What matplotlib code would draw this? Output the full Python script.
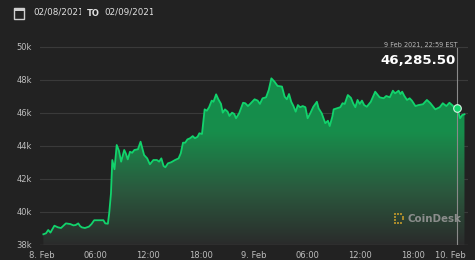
import numpy as np
import matplotlib
matplotlib.use("Agg")
import matplotlib.pyplot as plt
from matplotlib.colors import LinearSegmentedColormap
from matplotlib.patches import Rectangle
from matplotlib.transforms import Bbox

# hours since 8 Feb 2021 00:00 EST, price in thousands USD
hours = [0.15, 0.45, 0.7, 0.95, 1.4, 1.8, 2.15, 2.7, 3.2, 3.55, 3.8, 4.1, 4.3, 4.5, 4.85,
         5.3, 5.6, 5.9, 6.55, 6.95, 7.15, 7.45, 7.6, 7.8, 7.95, 8.2, 8.45, 8.7, 8.95, 9.3,
         9.5, 9.7, 9.95, 10.2, 10.45, 10.85, 11.15, 11.55, 11.9, 12.2, 12.6, 13.0, 13.25,
         13.5, 13.75, 13.95, 14.25, 14.6, 15.05, 15.45, 15.7, 15.95, 16.2, 16.45, 16.75,
         17.05, 17.3, 17.6, 17.8, 18.1, 18.4, 18.65, 18.9, 19.2, 19.4, 19.7, 19.95, 20.25,
         20.45, 20.7, 21.0, 21.2, 21.5, 21.75, 21.95, 22.3, 22.75, 23.0, 23.3, 23.55, 24.05,
         24.4, 24.65, 24.95, 25.35, 25.65, 25.95, 26.3, 26.65, 27.15, 27.45, 27.7, 27.95,
         28.2, 28.45, 28.7, 28.95, 29.2, 29.5, 29.8, 30.05, 30.35, 30.7, 31.1, 31.3, 31.65,
         32.05, 32.35, 32.55, 32.85, 33.0, 33.35, 33.75, 34.0, 34.25, 34.6, 34.95, 35.2,
         35.45, 35.7, 35.95, 36.2, 36.45, 36.75, 37.2, 37.7, 38.2, 38.65, 38.95, 39.35,
         39.7, 39.95, 40.35, 40.55, 40.75, 41.0, 41.3, 41.6, 41.85, 42.25, 42.6, 43.1,
         43.55, 43.95, 44.5, 45.0, 45.35, 45.75, 46.1, 46.4, 46.65, 46.98, 47.3, 47.55, 47.8]
price = [38.65, 38.71, 38.91, 38.75, 39.17, 39.07, 39.03, 39.31, 39.27, 39.19, 39.21, 39.31,
         39.15, 39.07, 39.03, 39.11, 39.27, 39.50, 39.50, 39.50, 39.31, 39.29, 39.92, 41.13,
         43.15, 42.59, 44.06, 43.72, 43.05, 43.76, 43.52, 43.19, 43.65, 43.59, 43.76, 43.80,
         44.26, 43.45, 43.25, 42.89, 43.15, 43.15, 43.05, 43.25, 42.79, 42.71, 42.95, 43.01,
         43.15, 43.25, 43.56, 44.20, 44.20, 44.40, 44.47, 44.60, 44.47, 44.56, 44.77, 44.73,
         46.22, 46.14, 46.35, 46.75, 46.68, 47.13, 46.83, 46.55, 46.02, 46.22, 46.08, 45.82,
         46.02, 45.94, 45.68, 45.98, 46.62, 46.59, 46.42, 46.55, 46.83, 46.75, 46.55, 46.89,
         46.95, 47.39, 48.10, 47.90, 47.64, 47.60, 46.99, 46.83, 47.15, 46.68, 46.42, 46.08,
         46.48, 46.35, 46.42, 46.35, 45.68, 45.98, 46.38, 46.68, 46.28, 45.98, 45.38, 45.53,
         45.21, 45.78, 46.22, 46.28, 46.35, 46.59, 46.55, 47.09, 46.92, 46.59, 46.35, 46.79,
         46.55, 46.75, 46.48, 46.38, 46.68, 47.29, 46.95, 46.89, 47.03, 46.95, 47.35, 47.19,
         47.35, 47.15, 47.29, 47.03, 46.79, 46.89, 46.75, 46.42, 46.48, 46.53, 46.79, 46.59,
         46.22, 46.35, 46.59, 46.42, 46.62, 46.48, 46.35, 46.2855, 45.68, 45.88, 45.92]

tick_hours = [0, 6, 12, 18, 24, 30, 36, 42, 48]
tick_labels = ["8. Feb", "06:00", "12:00", "18:00", "9. Feb", "06:00", "12:00", "18:00", "10. Feb"]
y_ticks = [38, 40, 42, 44, 46, 48, 50]
y_labels = ["38k", "40k", "42k", "44k", "46k", "48k", "50k"]

hover_hour = 46.98
hover_price = 46.2855
hover_date = "9 Feb 2021, 22:59 EST"
hover_value = "46,285.50"

bg = "#222222"
line_green = "#12d36c"

fig = plt.figure(figsize=(4.75, 2.6), dpi=100, facecolor=bg)
ax = fig.add_axes([40 / 475, 15 / 260, 428 / 475, 200 / 260])
ax.set_facecolor(bg)
ax.set_xlim(-0.23, 48.2)
ax.set_ylim(38, 50.12)

# gradient fill under the line
cmap = LinearSegmentedColormap.from_list("fill", ["#2b2b2b", "#2a5a3e", "#178d4b", "#138f4c"])
grad = np.linspace(0, 1, 256).reshape(-1, 1)
im = ax.imshow(grad, cmap=cmap, origin="lower", aspect="auto",
               extent=(hours[0], hours[-1], 38, 48.2), zorder=1)
poly = ax.fill_between(hours, price, 38, color="none", lw=0)
clip = poly.get_paths()[0]
im.set_clip_path(clip, transform=ax.transData)

ax.plot(hours, price, color=line_green, lw=1.3, zorder=3, solid_joinstyle="round")

for t in y_ticks[1:]:
    ax.axhline(t, color="#3a3a3a", lw=0.8, zorder=0.5)
ax.axhline(38, color="#4a4a4a", lw=0.9, zorder=4)

# hover crosshair + marker
ax.plot([hover_hour, hover_hour], [38, 49.95], color="#8a8a8a", lw=0.8, zorder=4)
ax.scatter([hover_hour], [hover_price], s=30, color=line_green, edgecolor="#d8f5e2",
           linewidth=0.8, zorder=5)

for s in ax.spines.values():
    s.set_visible(False)
ax.set_yticks(y_ticks)
ax.set_yticklabels(y_labels)
ax.set_xticks(tick_hours)
ax.set_xticklabels(tick_labels)
ax.tick_params(length=0, colors="#bdbdbd", labelsize=6)
ax.tick_params(axis="y", pad=6)
ax.tick_params(axis="x", pad=4)
ax.get_xticklabels()[-1].set_horizontalalignment("right")
ax.get_xticklabels()[-1].set_x(48.3)

# header (date inputs are clipped like the input boxes)
d1 = fig.text(33 / 475, 1 - 12 / 260, "02/08/2021", color="#e0e0e0", fontsize=6.3, va="center")
d1.set_clip_box(Bbox.from_extents(0, 240, 81, 260))
fig.text(87 / 475, 1 - 13 / 260, "TO", color="#e0e0e0", fontsize=6, fontweight="bold", va="center")
d2 = fig.text(104 / 475, 1 - 12 / 260, "02/09/2021", color="#e0e0e0", fontsize=6.3, va="center")
d2.set_clip_box(Bbox.from_extents(100, 240, 153, 260))
fig.patches.append(Rectangle((14 / 475, 1 - 19 / 260), 10 / 475, 11 / 260, transform=fig.transFigure,
                             fill=False, edgecolor="#cfcfcf", lw=1.0))
fig.patches.append(Rectangle((14 / 475, 1 - 11 / 260), 10 / 475, 3 / 260, transform=fig.transFigure,
                             color="#cfcfcf", lw=0))

# hover label
fig.text(457 / 475, 1 - 45 / 260, hover_date, color="#b8b8b8", fontsize=4.7, ha="right", va="center")
fig.text(456 / 475, 1 - 60 / 260, hover_value, color="white", fontsize=9.6, fontweight="bold",
         ha="right", va="center")

# CoinDesk watermark
for dx, dy in [(0, 0), (0, 3), (0, 6), (0, 9), (3, 0), (6, 0), (3, 9), (6, 9), (8, 4), (8, 6)]:
    fig.patches.append(Rectangle(((394 + dx) / 475, 1 - (224 - dy) / 260), 2 / 475, 2 / 260,
                                 transform=fig.transFigure, color="#a88a2c", lw=0))
fig.text(407 / 475, 1 - 219 / 260, "CoinDesk", color="#969696", fontsize=7.4, fontweight="bold",
         va="center", alpha=0.9)

fig.savefig("out.png", dpi=100, facecolor=bg)
